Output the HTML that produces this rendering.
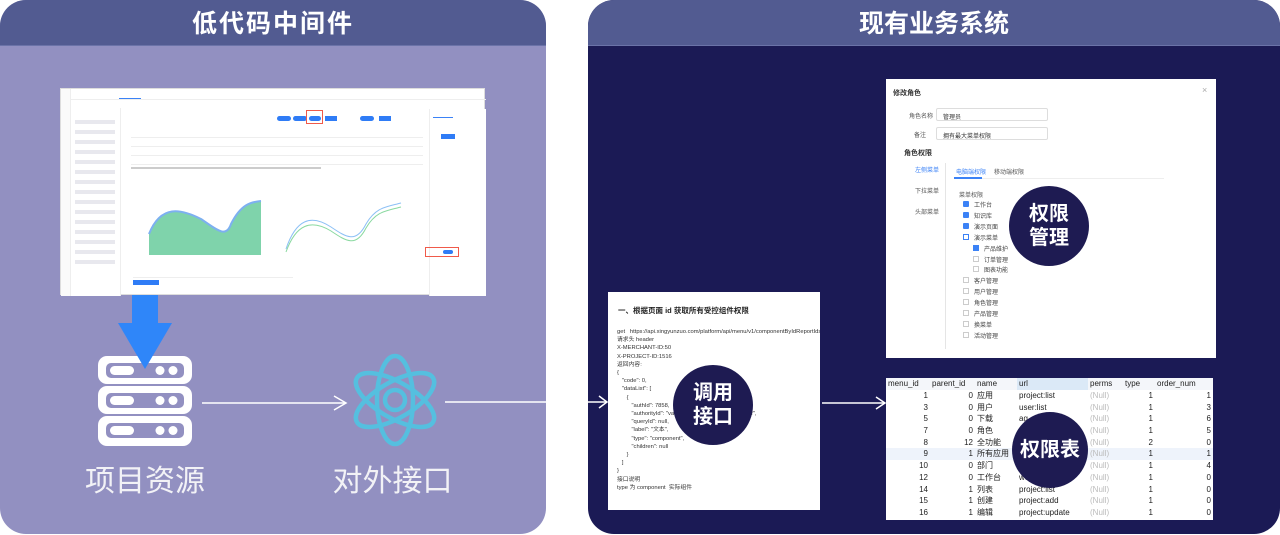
<!DOCTYPE html>
<html><head><meta charset="utf-8"><style>
*{margin:0;padding:0;box-sizing:border-box}
body{width:1280px;height:535px;background:#fff;position:relative;overflow:hidden;font-family:"Liberation Sans","Noto Sans CJK SC",sans-serif}
.abs{position:absolute}
.panel{position:absolute;top:0;border-radius:26px;overflow:hidden}
.hdr{position:absolute;left:0;top:0;right:0;height:46px;background:#525b91;color:#fff;font-weight:bold;font-size:25px;text-align:center;line-height:48px;border-bottom:1px solid #6b73a8}
.circ{position:absolute;border-radius:50%;background:#1e1b52;color:#fff;font-size:20px;font-weight:bold;display:flex;align-items:center;justify-content:center;text-align:center;line-height:24px}
table{border-collapse:collapse;font-size:8px;color:#222}
td{height:11.7px;padding:0 2px;white-space:nowrap}
.code{font-size:5.8px;color:#333;line-height:8.2px;white-space:pre}
.sm{font-size:6px;color:#555}
</style></head><body>
<!-- left panel -->
<div class="panel" style="left:0;width:546px;height:534px;background:#9290c1">
<div class="hdr" style="letter-spacing:2px">低代码中间件</div>
</div>
<!-- mockup -->
<div class="abs" style="left:60px;top:88px;width:425px;height:207px;background:#fff;border:1px solid #ddd">
 <div class="abs" style="left:0;top:0;width:10px;height:207px;background:#fafafa;border-right:1px solid #eee"></div>
 <div class="abs" style="left:10px;top:0;width:415px;height:11px;border-bottom:1px solid #eee"></div>
 <div class="abs" style="left:58px;top:9px;width:22px;height:1px;background:#3b82f6"></div>
 <div class="abs" style="left:10px;top:19px;width:50px;height:188px;background:#fff;border-right:1px solid #eee"></div>
 <div class="abs" style="left:14px;top:28px;width:40px;height:150px;background:repeating-linear-gradient(#fff 0 3px,#e8e8ee 3px 7px,#fff 7px 10px)"></div>
 <div class="abs" style="left:66px;top:20px;width:302px;height:168px;background:#fff"></div>
 <div class="abs" style="left:70px;top:40px;width:292px;height:36px;background:repeating-linear-gradient(#fff 0 8px,#eee 8px 9px)"></div>
 <div class="abs" style="left:216px;top:27px;width:14px;height:5px;background:#2f7cf6;border-radius:3px"></div>
 <div class="abs" style="left:232px;top:27px;width:14px;height:5px;background:#2f7cf6;border-radius:3px"></div>
 <div class="abs" style="left:245px;top:21px;width:17px;height:14px;border:1px solid #f05a4a"></div>
 <div class="abs" style="left:248px;top:27px;width:12px;height:5px;background:#2f7cf6;border-radius:3px"></div>
 <div class="abs" style="left:264px;top:27px;width:12px;height:5px;background:#2f7cf6"></div>
 <div class="abs" style="left:299px;top:27px;width:14px;height:5px;background:#2f7cf6;border-radius:3px"></div>
 <div class="abs" style="left:318px;top:27px;width:12px;height:5px;background:#2f7cf6"></div>
 <div class="abs" style="left:70px;top:78px;width:190px;height:2px;background:#ccc"></div>
 <svg class="abs" style="left:70px;top:110px" width="300" height="60">
  <path d="M18 56 L18 35 C30 5 50 10 70 20 C85 30 95 40 100 25 C110 5 120 3 130 2 L130 56Z" fill="#7fd3ab"/>
  <path d="M18 35 C30 5 50 10 70 20 C85 30 95 40 100 25 C110 5 120 3 130 2" stroke="#7db0f0" stroke-width="2" fill="none"/>
  <path d="M155 50 C165 20 180 15 200 28 C215 38 225 45 235 25 C245 8 255 8 270 4" stroke="#8cc0f5" fill="none"/>
  <path d="M155 53 C165 25 180 20 200 32 C215 42 225 49 235 29 C245 12 255 12 270 8" stroke="#8ad9a0" fill="none"/>
 </svg>
 <div class="abs" style="left:368px;top:20px;width:57px;height:187px;background:#fff;border-left:1px solid #eee"></div>
 <div class="abs" style="left:372px;top:28px;width:20px;height:1px;background:#3b82f6"></div>
 <div class="abs" style="left:380px;top:45px;width:14px;height:5px;background:#2f7cf6"></div>
 <div class="abs" style="left:364px;top:158px;width:34px;height:10px;border:1px solid #f05a4a"></div>
 <div class="abs" style="left:382px;top:161px;width:10px;height:4px;background:#2f7cf6;border-radius:2px"></div>
 <div class="abs" style="left:72px;top:188px;width:160px;height:1px;background:#eee"></div>
 <div class="abs" style="left:72px;top:191px;width:26px;height:5px;background:#2f7cf6"></div>
</div>
<!-- blue arrow -->
<div class="abs" style="left:132px;top:295px;width:26px;height:29px;background:#2f86f9"></div>
<!-- server -->
<svg class="abs" style="left:96px;top:354px" width="100" height="96">
 <g fill="#fff"><rect x="2" y="2" width="94" height="28" rx="9"/><rect x="2" y="32" width="94" height="28" rx="9"/><rect x="2" y="62" width="94" height="30" rx="9"/></g>
 <g fill="#9290c1"><rect x="10" y="9" width="78" height="15" rx="5"/><rect x="10" y="39" width="78" height="15" rx="5"/><rect x="10" y="69" width="78" height="15" rx="5"/></g>
 <g fill="#fff"><rect x="14" y="12" width="24" height="9" rx="4.5"/><rect x="14" y="42" width="24" height="9" rx="4.5"/><rect x="14" y="72" width="24" height="9" rx="4.5"/>
 <circle cx="64" cy="16.5" r="4.5"/><circle cx="77" cy="16.5" r="4.5"/><circle cx="64" cy="46.5" r="4.5"/><circle cx="77" cy="46.5" r="4.5"/><circle cx="64" cy="76.5" r="4.5"/><circle cx="77" cy="76.5" r="4.5"/></g>
</svg>
<svg class="abs" style="left:118px;top:323px" width="54" height="46"><path d="M0 0 L54 0 L27 46Z" fill="#2f86f9"/></svg>
<div class="abs" style="left:80px;top:456px;width:130px;text-align:center;color:#f2f2f6;font-size:30px">项目资源</div>
<!-- atom -->
<svg class="abs" style="left:345px;top:350px" width="100" height="100">
 <g fill="none" stroke="#55bfdf" stroke-width="4.5">
  <ellipse cx="50" cy="50" rx="44" ry="18" transform="rotate(30 50 50)"/>
  <ellipse cx="50" cy="50" rx="44" ry="18" transform="rotate(-30 50 50)"/>
  <ellipse cx="50" cy="50" rx="44" ry="18" transform="rotate(90 50 50)"/>
  <circle cx="50" cy="50" r="10"/>
 </g>
</svg>
<div class="abs" style="left:330px;top:456px;width:125px;text-align:center;color:#f2f2f6;font-size:30px">对外接口</div>
<!-- left arrows -->
<svg class="abs" style="left:0;top:0" width="1280" height="535">
 <line x1="202" y1="403" x2="345" y2="403" stroke="#fff" stroke-width="1.5"/>
 <polyline points="334,396 346,403 334,410" fill="none" stroke="#fff" stroke-width="1.5"/>
 <line x1="445" y1="402" x2="546" y2="402" stroke="#fff" stroke-width="1.5"/>
</svg>
<!-- right panel -->
<div class="panel" style="left:588px;width:692px;height:534px;background:#1b1a55">
<div class="hdr">现有业务系统</div>
</div>
<svg class="abs" style="left:0;top:0" width="1280" height="535">
 <line x1="588" y1="402" x2="607" y2="402" stroke="#fff" stroke-width="1.5"/>
 <polyline points="599,396 607,402 599,408" fill="none" stroke="#fff" stroke-width="1.5"/>
 <line x1="822" y1="403" x2="885" y2="403" stroke="#fff" stroke-width="1.5"/>
 <polyline points="876,397 885,403 876,409" fill="none" stroke="#fff" stroke-width="1.5"/>
</svg>
<!-- code box -->
<div class="abs" style="left:608px;top:292px;width:212px;height:218px;background:#fff;overflow:hidden">
 <div class="abs" style="left:10px;top:13px;font-size:7.5px;font-weight:bold;color:#222">一、根据页面 id 获取所有受控组件权限</div>
 <div class="abs code" style="left:9px;top:36px">get   https://api.xingyunzuo.com/platform/api/menu/v1/componentByIdReportIds
请求头 header
X-MERCHANT-ID:50
X-PROJECT-ID:1516
返回内容:
{
   "code": 0,
   "dataList": [
      {
         "authId": 7858,
         "authorityId": "va                                 c17f96e9f",
         "queryId": null,
         "label": "文本",
         "type": "component",
         "children": null
      }
   ]
}
接口说明
type 为 component  实际组件</div>
</div>
<div class="circ" style="left:673px;top:365px;width:80px;height:80px">调用<br>接口</div>
<!-- form box -->
<div class="abs" style="left:886px;top:79px;width:330px;height:279px;background:#fff;color:#333">
 <div class="abs" style="left:7px;top:9px;font-size:7px;font-weight:bold">修改角色</div>
 <div class="abs" style="left:316px;top:6px;font-size:9px;color:#aaa">×</div>
 <div class="abs sm" style="left:23px;top:32px">角色名称</div>
 <div class="abs" style="left:50px;top:29px;width:112px;height:13px;border:1px solid #ddd;border-radius:2px;font-size:6px;padding:3px 6px">管理员</div>
 <div class="abs sm" style="left:28px;top:51px">备注</div>
 <div class="abs" style="left:50px;top:48px;width:112px;height:13px;border:1px solid #ddd;border-radius:2px;font-size:6px;padding:3px 6px">拥有最大菜单权限</div>
 <div class="abs" style="left:18px;top:69px;font-size:7px;font-weight:bold">角色权限</div>
 <div class="abs" style="left:29px;top:86px;font-size:6px;color:#3b82f6">左侧菜单</div>
 <div class="abs sm" style="left:29px;top:107px">下拉菜单</div>
 <div class="abs sm" style="left:29px;top:128px">头部菜单</div>
 <div class="abs" style="left:59px;top:84px;width:1px;height:186px;background:#e5e5e5"></div>
 <div class="abs" style="left:70px;top:88px;font-size:6px;color:#3b82f6">电脑端权限</div>
 <div class="abs sm" style="left:108px;top:88px">移动端权限</div>
 <div class="abs" style="left:68px;top:99px;width:210px;height:1px;background:#eee"></div>
 <div class="abs" style="left:68px;top:98px;width:28px;height:2px;background:#3b82f6"></div>
 <div class="abs sm" style="left:73px;top:111px">菜单权限</div>
 <div class="abs" style="left:77px;top:122px;font-size:6px;line-height:10.9px;color:#444">
  <div><span style="display:inline-block;width:6px;height:6px;background:#3b82f6;margin-right:5px;border-radius:1px"></span>工作台</div>
  <div><span style="display:inline-block;width:6px;height:6px;background:#3b82f6;margin-right:5px;border-radius:1px"></span>知识库</div>
  <div><span style="display:inline-block;width:6px;height:6px;background:#3b82f6;margin-right:5px;border-radius:1px"></span>演示页面</div>
  <div><span style="display:inline-block;width:6px;height:6px;border:1px solid #3b82f6;margin-right:5px"></span>演示菜单</div>
  <div style="padding-left:10px"><span style="display:inline-block;width:6px;height:6px;background:#3b82f6;margin-right:5px"></span>产品维护</div>
  <div style="padding-left:10px"><span style="display:inline-block;width:6px;height:6px;border:1px solid #ccc;margin-right:5px"></span>订单管理</div>
  <div style="padding-left:10px"><span style="display:inline-block;width:6px;height:6px;border:1px solid #ccc;margin-right:5px"></span>图表功能</div>
  <div><span style="display:inline-block;width:6px;height:6px;border:1px solid #ccc;margin-right:5px"></span>客户管理</div>
  <div><span style="display:inline-block;width:6px;height:6px;border:1px solid #ccc;margin-right:5px"></span>用户管理</div>
  <div><span style="display:inline-block;width:6px;height:6px;border:1px solid #ccc;margin-right:5px"></span>角色管理</div>
  <div><span style="display:inline-block;width:6px;height:6px;border:1px solid #ccc;margin-right:5px"></span>产品管理</div>
  <div><span style="display:inline-block;width:6px;height:6px;border:1px solid #ccc;margin-right:5px"></span>换菜单</div>
  <div><span style="display:inline-block;width:6px;height:6px;border:1px solid #ccc;margin-right:5px"></span>活动管理</div>
 </div>
</div>
<div class="circ" style="left:1009px;top:186px;width:80px;height:80px">权限<br>管理</div>
<!-- table -->
<div class="abs" style="left:886px;top:378px;width:327px;height:142px;background:#fff;overflow:hidden">
<table style="width:327px">
<colgroup><col style="width:44px"><col style="width:45px"><col style="width:42px"><col style="width:71px"><col style="width:35px"><col style="width:32px"><col style="width:58px"></colgroup>
<tr style="background:#f4f6fa"><td>menu_id</td><td>parent_id</td><td>name</td><td style="background:#dbe9f7">url</td><td>perms</td><td>type</td><td>order_num</td></tr>
<tr><td align="right">1</td><td align="right">0</td><td>应用</td><td>project:list</td><td style="color:#bbb">(Null)</td><td align="right">1</td><td align="right">1</td></tr>
<tr><td align="right">3</td><td align="right">0</td><td>用户</td><td>user:list</td><td style="color:#bbb">(Null)</td><td align="right">1</td><td align="right">3</td></tr>
<tr><td align="right">5</td><td align="right">0</td><td>下载</td><td>ag</td><td style="color:#bbb">(Null)</td><td align="right">1</td><td align="right">6</td></tr>
<tr><td align="right">7</td><td align="right">0</td><td>角色</td><td></td><td style="color:#bbb">(Null)</td><td align="right">1</td><td align="right">5</td></tr>
<tr><td align="right">8</td><td align="right">12</td><td>全功能</td><td></td><td style="color:#bbb">(Null)</td><td align="right">2</td><td align="right">0</td></tr>
<tr style="background:#eef3fb"><td align="right">9</td><td align="right">1</td><td>所有应用</td><td></td><td style="color:#bbb">(Null)</td><td align="right">1</td><td align="right">1</td></tr>
<tr><td align="right">10</td><td align="right">0</td><td>部门</td><td></td><td style="color:#bbb">(Null)</td><td align="right">1</td><td align="right">4</td></tr>
<tr><td align="right">12</td><td align="right">0</td><td>工作台</td><td>wor</td><td style="color:#bbb">(Null)</td><td align="right">1</td><td align="right">0</td></tr>
<tr><td align="right">14</td><td align="right">1</td><td>列表</td><td>project:list</td><td style="color:#bbb">(Null)</td><td align="right">1</td><td align="right">0</td></tr>
<tr><td align="right">15</td><td align="right">1</td><td>创建</td><td>project:add</td><td style="color:#bbb">(Null)</td><td align="right">1</td><td align="right">0</td></tr>
<tr><td align="right">16</td><td align="right">1</td><td>编辑</td><td>project:update</td><td style="color:#bbb">(Null)</td><td align="right">1</td><td align="right">0</td></tr>
</table>
</div>
<div class="circ" style="left:1012px;top:412px;width:76px;height:76px">权限表</div>
</body></html>
